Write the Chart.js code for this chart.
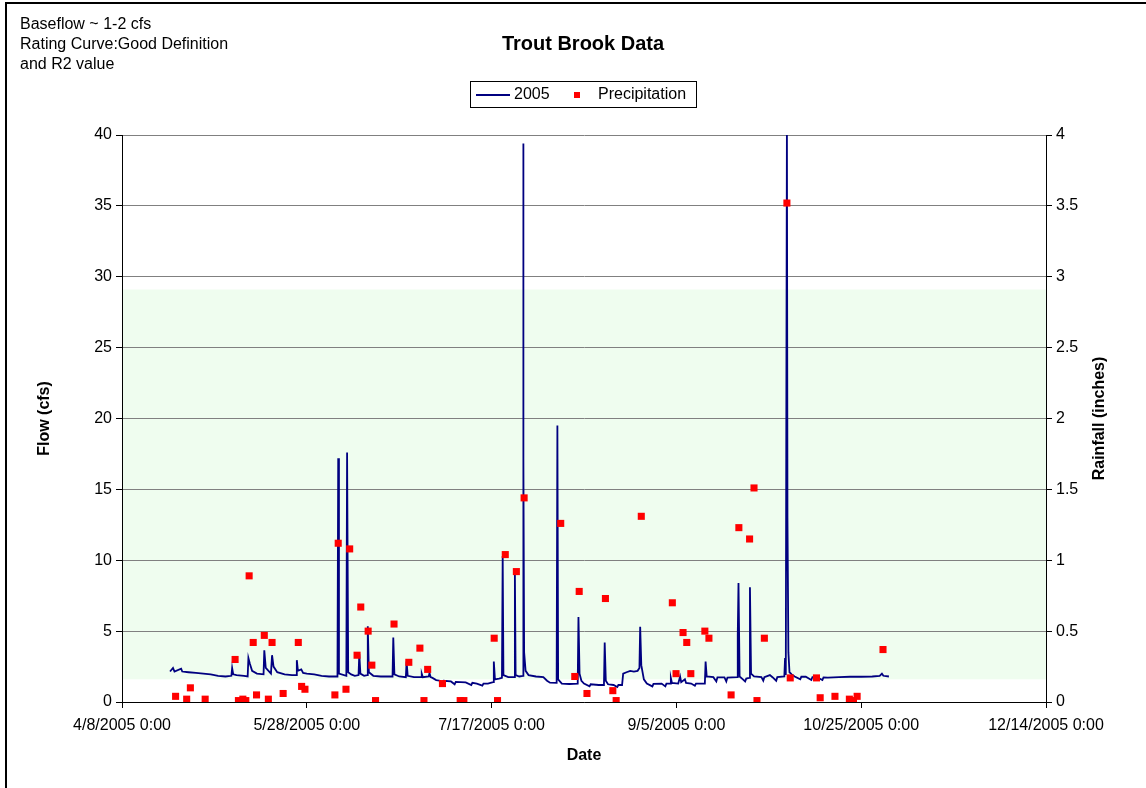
<!DOCTYPE html>
<html>
<head>
<meta charset="utf-8">
<script src="https://cdn.jsdelivr.net/npm/chart.js@4"></script>
<style>
  body { margin: 0; background: #fff; }
</style>
</head>
<body>
<canvas id="trout" width="1146" height="788"></canvas>
<script>
// days counted from 4/8/2005 0:00
const startDate = Date.UTC(2005, 3, 8);

const flowDay = [13.0, 13.8, 14.2, 16.0, 16.3, 18.0, 20.0, 22.0, 24.0, 26.0, 28.0, 29.6, 29.8, 30.1, 31.0, 33.0,
  34.0, 34.2, 34.6, 35.2, 36.5, 38.3, 38.5, 38.9, 40.3, 40.6, 41.0, 42.0, 44.0, 46.0, 47.1, 47.3, 47.6, 48.5, 49.0,
  50.0, 52.0, 54.0, 56.0, 58.3, 58.5, 58.7, 60.7, 60.9, 61.2, 62.0, 63.0, 64.0, 64.2, 64.5, 65.5, 66.3, 66.5, 66.8,
  68.0, 70.0, 73.2, 73.4, 73.7, 75.0, 76.8, 77.0, 77.3, 79.0, 80.9, 81.1, 81.4, 83.0, 83.2, 83.5, 84.0, 85.0, 86.0,
  86.5, 87.0, 89.0, 90.0, 90.3, 93.0, 94.5, 94.8, 96.0, 97.5, 97.8, 99.0, 100.4, 100.6, 100.9, 102.0, 102.8, 103.0,
  103.2, 104.5, 106.1, 106.3, 106.5, 107.5, 108.5, 108.55, 108.6, 108.65, 108.8, 109.2, 110.0, 112.0, 114.0, 115.0,
  115.8, 117.6, 117.8, 118.0, 119.0, 121.0, 123.3, 123.5, 123.8, 124.3, 125.0, 126.5, 126.8, 129.0, 130.4, 130.6,
  130.9, 131.5, 133.0, 134.0, 134.3, 135.3, 135.6, 136.5, 137.5, 138.5, 139.5, 140.0, 140.2, 140.5, 141.2, 142.0,
  143.5, 143.8, 146.0, 147.0, 147.3, 148.3, 148.5, 148.8, 150.5, 151.0, 151.3, 152.3, 152.6, 154.0, 155.0, 155.3,
  157.7, 157.9, 158.2, 160.0, 160.8, 161.1, 163.0, 163.5, 163.8, 166.5, 166.6, 166.8, 167.1, 168.0, 168.6, 168.9,
  169.7, 169.9, 170.2, 171.0, 173.0, 173.5, 173.8, 175.3, 176.0, 177.0, 177.3, 179.2, 179.4, 179.6, 179.9, 180.05,
  180.3, 180.6, 181.2, 182.0, 183.5, 183.8, 185.0, 186.5, 186.8, 188.0, 189.5, 189.8, 191.0, 194.0, 197.0, 200.0,
  203.0, 205.0, 205.6, 206.0, 207.5];
const flowCfs = [2.15, 2.4, 2.15, 2.35, 2.15, 2.1, 2.05, 2.0, 1.95, 1.85, 1.8, 1.85, 2.4, 1.95, 1.9, 1.85,
  1.8, 3.1, 2.7, 2.2, 2.0, 1.95, 3.65, 2.4, 2.0, 3.3, 2.5, 2.1, 1.95, 1.9, 1.9, 2.95, 2.2, 2.3, 2.05,
  2.0, 1.95, 1.85, 1.8, 1.8, 17.2, 2.0, 1.85, 17.6, 2.1, 1.95, 1.85, 1.9, 3.4, 2.0, 1.85, 1.9, 5.35, 2.1,
  1.85, 1.8, 1.8, 4.55, 1.95, 1.8, 1.75, 2.85, 1.85, 1.75, 1.75, 2.0, 1.75, 1.8, 2.05, 1.75, 1.7, 1.55, 1.5,
  1.3, 1.5, 1.45, 1.25, 1.42, 1.38, 1.2, 1.35, 1.3, 1.15, 1.3, 1.3, 1.4, 2.85, 1.6, 1.65, 1.7, 10.3,
  1.9, 1.75, 1.75, 9.2, 1.9, 1.8, 1.85, 30.3, 39.4, 17.2, 3.5, 2.2, 1.9, 1.8, 1.75, 1.5,
  1.36, 1.35, 19.5, 1.6, 1.3, 1.27, 1.3, 6.0, 2.0, 1.5, 1.3, 1.1, 1.25, 1.2, 1.2, 4.2,
  1.5, 1.25, 1.2, 1.05, 1.2, 1.2, 2.0, 2.1, 2.2, 2.15, 2.2, 2.4, 5.3, 2.6, 1.6, 1.3,
  1.1, 1.28, 1.3, 1.1, 1.3, 1.3, 1.7, 1.35, 1.3, 1.8, 1.4, 1.6, 1.35, 1.3, 1.15, 1.3,
  1.3, 2.85, 1.8, 1.75, 1.45, 1.74, 1.74, 1.45, 1.72, 1.75, 4.7, 8.4, 1.8, 1.6, 1.45, 1.65,
  1.7, 8.1, 2.0, 1.8, 1.75, 1.5, 1.75, 1.9, 1.75, 1.5, 1.75, 1.8, 3.1, 1.9, 41, 13,
  3.5, 2.1, 1.95, 1.8, 1.6, 1.78, 1.78, 1.55, 1.76, 1.75, 1.55, 1.74, 1.72, 1.75, 1.78, 1.78,
  1.8, 1.85, 2.0, 1.85, 1.8];

const rainDay = [14.5, 17.5, 18.5, 22.5, 30.6, 31.5, 32.7, 33.5, 34.4, 35.5, 36.4, 38.5, 39.6, 40.6, 43.6, 47.7,
  48.6, 49.5, 57.6, 58.5, 60.6, 61.6, 63.6, 64.6, 66.6, 67.6, 68.6, 73.6, 77.6, 80.6, 81.7, 82.7, 86.7, 91.5,
  92.5, 100.7, 101.6, 103.7, 106.7, 108.8, 118.7, 122.5, 123.7, 125.8, 130.8, 132.8, 133.7, 140.5, 148.9, 149.9,
  151.8, 152.8, 153.9, 157.7, 158.8, 164.8, 166.9, 169.8, 171.0, 171.8, 173.8, 179.9, 180.8, 187.9, 188.9, 192.9,
  196.8, 197.9, 198.9, 205.9];
const rainIn = [0.04, 0.02, 0.10, 0.02, 0.30, 0.01, 0.02, 0.01, 0.89, 0.42, 0.05, 0.47, 0.02, 0.42, 0.06, 0.42,
  0.11, 0.09, 0.05, 1.12, 0.09, 1.08, 0.33, 0.67, 0.50, 0.26, 0.01, 0.55, 0.28, 0.38, 0.01, 0.23, 0.13, 0.01,
  0.01, 0.45, 0.01, 1.04, 0.92, 1.44, 1.26, 0.18, 0.78, 0.06, 0.73, 0.08, 0.01, 1.31, 0.70, 0.20,
  0.49, 0.42, 0.20, 0.50, 0.45, 0.05, 1.23, 1.15, 1.51, 0.01, 0.45, 3.52, 0.17, 0.17, 0.03, 0.04,
  0.02, 0.01, 0.04, 0.37];

// rating curve range (cfs) shaded in green
const bandLow = 1.6;
const bandHigh = 29.1;

const noteLines = ['Baseflow ~ 1-2 cfs', 'Rating Curve:Good Definition', 'and R2 value'];

const FONT = '"Liberation Sans", Arial, sans-serif';
Chart.defaults.font.family = FONT;
Chart.defaults.font.size = 16;
Chart.defaults.color = '#000';

function dateLabel(v) {
  const d = new Date(startDate + v * 86400000);
  return (d.getUTCMonth() + 1) + '/' + d.getUTCDate() + '/' + d.getUTCFullYear() + ' 0:00';
}

const decor = {
  id: 'decor',
  beforeDraw(chart) {
    const ctx = chart.ctx, a = chart.chartArea, y = chart.scales.y;
    const top = y.getPixelForValue(bandHigh), bot = y.getPixelForValue(bandLow);
    ctx.save();
    ctx.fillStyle = '#effdef';
    ctx.fillRect(a.left, top, a.right - a.left, bot - top);
    ctx.restore();
  },
  afterDraw(chart) {
    const ctx = chart.ctx, a = chart.chartArea;
    ctx.save();
    // outer frame
    ctx.strokeStyle = '#000';
    ctx.lineWidth = 2;
    ctx.strokeRect(6, 3, 1200, 900);

    // notes top-left
    ctx.font = '16px ' + FONT;
    ctx.fillStyle = '#000';
    ctx.textBaseline = 'middle';
    ctx.textAlign = 'left';
    noteLines.forEach((t, i) => ctx.fillText(t, 20, 25 + i * 20));

    // title
    ctx.font = 'bold 20px ' + FONT;
    ctx.textAlign = 'center';
    ctx.fillText('Trout Brook Data', 583, 44);

    // legend
    ctx.fillStyle = '#fff';
    ctx.fillRect(470, 81, 226, 26);
    ctx.strokeStyle = '#000';
    ctx.lineWidth = 1;
    ctx.strokeRect(470.5, 81.5, 226, 26);
    ctx.strokeStyle = '#000080';
    ctx.lineWidth = 2;
    ctx.beginPath();
    ctx.moveTo(476, 95);
    ctx.lineTo(510, 95);
    ctx.stroke();
    ctx.fillStyle = '#ff0000';
    ctx.fillRect(574, 92, 6, 6);
    ctx.fillStyle = '#000';
    ctx.font = '16px ' + FONT;
    ctx.textAlign = 'left';
    ctx.fillText('2005', 514, 95);
    ctx.fillText('Precipitation', 598, 95);

    // right axis title, reading upwards
    ctx.font = 'bold 16px ' + FONT;
    ctx.translate(1100, (a.top + a.bottom) / 2);
    ctx.rotate(-Math.PI / 2);
    ctx.textAlign = 'center';
    ctx.fillText('Rainfall (inches)', 0, 0);
    ctx.restore();
  }
};

new Chart(document.getElementById('trout'), {
  type: 'line',
  data: {
    datasets: [
      {
        label: 'Precipitation',
        type: 'scatter',
        data: rainDay.map((d, i) => ({x: d, y: rainIn[i]})),
        yAxisID: 'y2',
        pointStyle: 'rect',
        pointRadius: 5,
        pointBackgroundColor: '#ff0000',
        pointBorderWidth: 0,
        showLine: false,
        order: 0
      },
      {
        label: '2005',
        data: flowDay.map((d, i) => ({x: d, y: flowCfs[i]})),
        yAxisID: 'y',
        borderColor: '#000080',
        borderWidth: 1.8,
        pointRadius: 0,
        tension: 0,
        fill: false,
        order: 1
      }
    ]
  },
  options: {
    responsive: false,
    animation: false,
    devicePixelRatio: 1,
    layout: { padding: { top: 135, left: 0, right: 0, bottom: 0 } },
    plugins: {
      legend: { display: false },
      title: { display: false },
      tooltip: { enabled: false }
    },
    scales: {
      x: {
        type: 'linear',
        min: 0,
        max: 250,
        afterFit: s => { s.height = 86; },
        ticks: { stepSize: 50, callback: dateLabel, maxRotation: 0, autoSkip: false, padding: 8 },
        grid: { drawOnChartArea: false, tickLength: 6, tickColor: '#000' },
        border: { color: '#000', width: 1 },
        title: { display: true, text: 'Date', font: { weight: 'bold', size: 16 }, padding: { top: 0, bottom: 23 } }
      },
      y: {
        position: 'left',
        min: 0,
        max: 40,
        afterFit: s => { s.width = 122; },
        ticks: { stepSize: 5, padding: 4 },
        grid: { color: '#808080', tickLength: 6, tickColor: '#000' },
        border: { color: '#000', width: 1 },
        title: { display: true, text: 'Flow (cfs)', font: { weight: 'bold', size: 16 }, padding: { top: 35, bottom: 0 } }
      },
      y2: {
        position: 'right',
        min: 0,
        max: 4,
        afterFit: s => { s.width = 100; },
        ticks: { stepSize: 0.5, padding: 4, callback: v => String(v) },
        grid: { drawOnChartArea: false, tickLength: 6, tickColor: '#000' },
        border: { color: '#000', width: 1 }
      }
    }
  },
  plugins: [decor]
});
</script>
</body>
</html>
